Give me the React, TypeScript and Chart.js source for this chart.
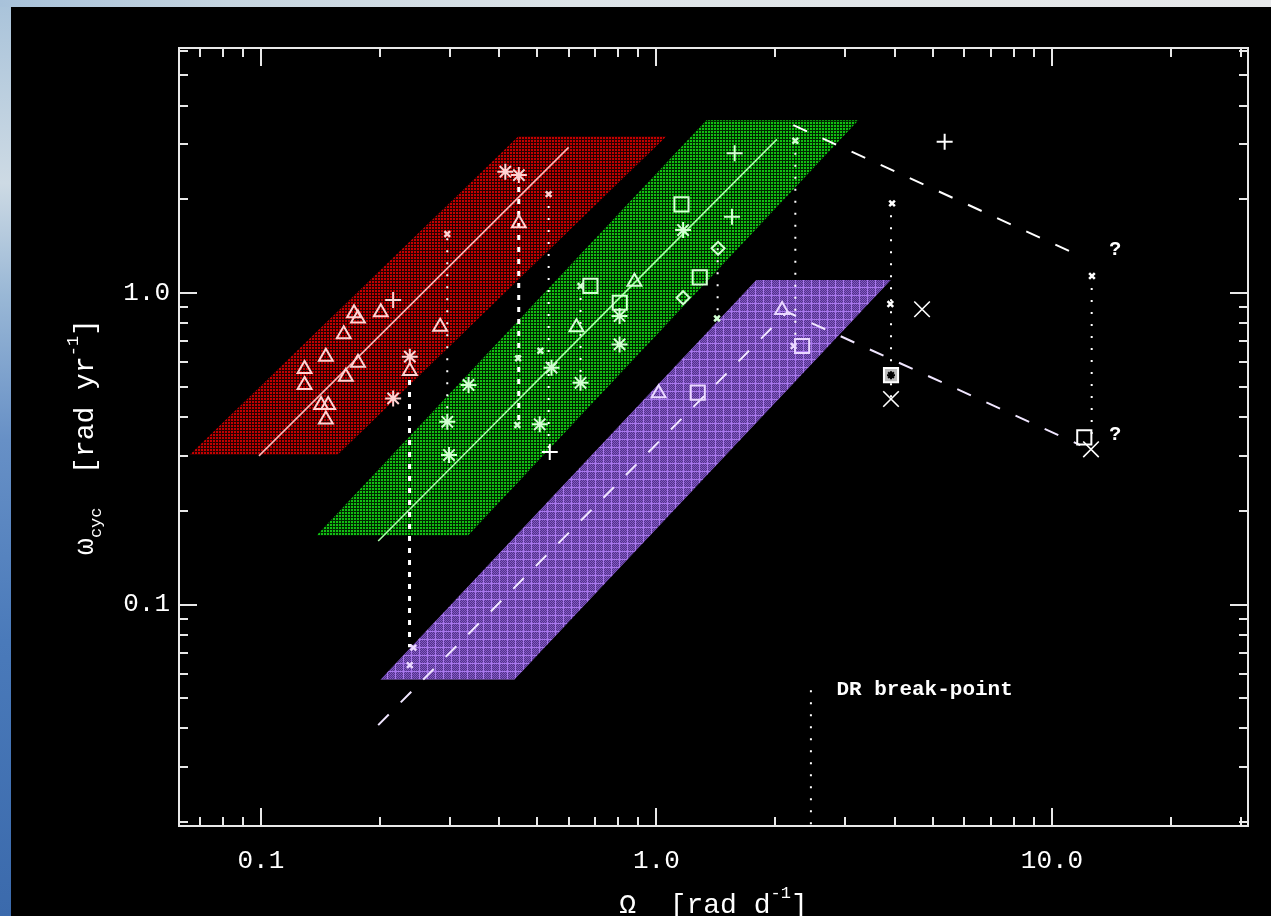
import React, { useEffect, useRef } from 'react';
import { Chart, registerables } from 'chart.js';

Chart.register(...registerables);

// ---------- axis ranges & ticks ----------
const X_MIN = 0.0621;
const X_MAX = 31.3;
const Y_MIN = 0.01945;
const Y_MAX = 6.12;

const xTickValues = [0.07, 0.08, 0.09, 0.1, 0.2, 0.3, 0.4, 0.5, 0.6, 0.7, 0.8, 0.9, 1, 2, 3, 4, 5, 6, 7, 8, 9, 10, 20, 30];
const xMajorTicks = [0.1, 1, 10];
const xTickLabels = ['0.1', '1.0', '10.0'];

const yTickValues = [0.02, 0.03, 0.04, 0.05, 0.06, 0.07, 0.08, 0.09, 0.1, 0.2, 0.3, 0.4, 0.5, 0.6, 0.7, 0.8, 0.9, 1, 2, 3, 4, 5, 6];
const yMajorTicks = [0.1, 1];
const yTickLabels = ['0.1', '1.0'];

// ---------- shaded bands (parallelogram corners) ----------
const redBand = [[0.066, 0.302], [0.1562, 0.302], [1.06, 3.19], [0.4479, 3.19]];
const greenBand = [[0.1383, 0.1665], [0.334, 0.1665], [3.24, 3.59], [1.337, 3.59]];
const purpleBand = [[0.2007, 0.0575], [0.4377, 0.0575], [3.914, 1.101], [1.789, 1.101]];

// ---------- fit / break lines ----------
const redFit = [[0.0989, 0.3], [0.6, 2.937]];
const greenFit = [[0.198, 0.16], [2.016, 3.114]];
const purpleFitLower = [[0.198, 0.041], [2.143, 0.869], [11.79, 0.325]];
const upperBreak = [[2.219, 3.462], [11.9, 1.308]];

// vertical dotted connectors: [x, yTop, yBottom]
const verticalsThick = [[0.2376, 0.526, 0.0729], [0.4487, 2.392, 0.377]];
const verticalsThin = [
  [0.296, 1.5, 0.4], [0.534, 2.078, 0.309], [0.643, 1.053, 0.515], [1.428, 1.392, 0.829],
  [2.245, 3.083, 0.676], [3.918, 1.941, 0.457], [12.6, 1.134, 0.344], [2.458, 0.0531, 0.01945],
];

// ---------- data points ----------
const redTriangles = [
  [0.172, 0.861], [0.176, 0.829], [0.201, 0.867], [0.162, 0.737], [0.146, 0.625], [0.176, 0.597],
  [0.129, 0.57], [0.164, 0.539], [0.129, 0.507], [0.142, 0.437], [0.148, 0.437], [0.146, 0.393],
  [0.284, 0.779], [0.238, 0.562], [0.449, 1.674],
];
const redCrosses = [[0.216, 0.95]];
const redStars = [[0.238, 0.625], [0.216, 0.459], [0.415, 2.452], [0.449, 2.392]];
const redSmall = [[0.296, 1.547], [0.534, 2.078]];

const greenCrosses = [[1.577, 2.809], [1.553, 1.758]];
const greenSquares = [[1.157, 1.927], [1.287, 1.123], [0.681, 1.055], [0.808, 0.931]];
const greenStars = [
  [1.168, 1.593], [0.807, 0.844], [0.807, 0.684], [0.543, 0.576], [0.643, 0.515],
  [0.507, 0.379], [0.335, 0.507], [0.296, 0.386], [0.299, 0.302],
];
const greenDiamonds = [[1.432, 1.392], [1.168, 0.966]];
const greenTriangles = [[0.88, 1.087], [0.628, 0.776]];
const greenSmall = [[1.423, 0.829], [0.509, 0.653], [0.447, 0.617], [0.445, 0.377], [2.245, 3.083], [0.643, 1.053]];

const purpleTriangles = [[2.078, 0.882], [1.013, 0.477]];
const purpleSquares = [[2.335, 0.676], [1.272, 0.479]];
const purpleSmall = [[2.223, 0.676], [0.243, 0.0727], [0.238, 0.0639]];

const otherCrosses = [[5.354, 3.06], [0.5375, 0.309]];
const otherXs = [[4.694, 0.887], [3.918, 0.457], [12.55, 0.315]];
const otherSquares = [[12.07, 0.344]];
const otherBoxed = [[3.918, 0.545]];
const otherSmall = [[3.942, 1.941], [12.62, 1.134], [3.903, 0.922]];

// ---------- texts ----------
const noteTexts = ['DR break-point', '?', '?'];
const notePoints = [[2.851, 0.0531], [14.45, 1.374], [14.45, 0.35]];
const xTitleParts: [string, string][] = [['Ω', 'n'], ['  ', 'n'], ['[rad d', 'n'], ['-1', 'sup'], [']', 'n']];
const yTitleParts: [string, string][] = [['ω', 'n'], ['cyc', 'sub'], ['  ', 'n'], ['[rad yr', 'n'], ['-1', 'sup'], [']', 'n']];

// ---------- helpers ----------
const FONT = 'Liberation Mono, DejaVu Sans Mono, monospace';
const pts = (arr: number[][]) => arr.map(([x, y]) => ({ x, y }));
const isIn = (v: number, list: number[]) => list.some((m) => Math.abs(v - m) / m < 1e-6);
const labelOf = (v: number, majors: number[], labels: string[]) => {
  const i = majors.findIndex((m) => Math.abs(v - m) / m < 1e-6);
  return i >= 0 ? labels[i] : '';
};

function makePattern(size: number, draw: (g: CanvasRenderingContext2D) => void) {
  const c = document.createElement('canvas');
  c.width = size;
  c.height = size;
  const g = c.getContext('2d')!;
  draw(g);
  return g.createPattern(c, 'repeat')!;
}

function markers(arr: number[][], style: string, radius: number, color: string, width = 2, fill = 'rgba(0,0,0,0)', order = 1) {
  return {
    type: 'line', data: pts(arr), showLine: false, pointStyle: style, pointRadius: radius,
    pointBorderColor: color, pointBackgroundColor: fill, pointBorderWidth: width, order,
  };
}
function lineDs(arr: number[][], color: string, width: number, dash: number[] = []) {
  return {
    type: 'line', data: pts(arr), borderColor: color, borderWidth: width, borderDash: dash,
    borderCapStyle: 'butt', pointRadius: 0, fill: false, order: 2,
  };
}
function band(arr: number[][], pattern: CanvasPattern) {
  return {
    type: 'line', data: pts([...arr, arr[0]]), borderWidth: 0, borderColor: 'rgba(0,0,0,0)',
    backgroundColor: pattern, fill: 'shape', pointRadius: 0, order: 3,
  };
}

function drawParts(ctx: CanvasRenderingContext2D, parts: [string, string][], size: number) {
  const fontFor = (k: string) => `${k === 'n' ? size : Math.round(size * 0.6)}px ${FONT}`;
  let total = 0;
  parts.forEach(([t, k]) => { ctx.font = fontFor(k); total += ctx.measureText(t).width; });
  let x = -total / 2;
  parts.forEach(([t, k]) => {
    ctx.font = fontFor(k);
    const dy = k === 'sup' ? -15 : k === 'sub' ? 8 : 0;
    ctx.fillText(t, x, dy);
    x += ctx.measureText(t).width;
  });
}

const decorPlugin = {
  id: 'decor',
  afterDatasetsDraw(chart: any) {
    const { ctx, chartArea: a } = chart;
    const xs = chart.scales.x;
    const ys = chart.scales.y;
    ctx.save();
    ctx.strokeStyle = '#e8e8e8';
    ctx.lineWidth = 2;
    ctx.strokeRect(a.left, a.top, a.right - a.left, a.bottom - a.top);
    ctx.beginPath();
    xs.ticks.forEach((t: any) => {
      const px = Math.round(xs.getPixelForValue(t.value));
      const len = isIn(t.value, xMajorTicks) ? 18 : 9;
      ctx.moveTo(px, a.bottom); ctx.lineTo(px, a.bottom - len);
      ctx.moveTo(px, a.top); ctx.lineTo(px, a.top + len);
    });
    ys.ticks.forEach((t: any) => {
      const py = Math.round(ys.getPixelForValue(t.value));
      const len = isIn(t.value, yMajorTicks) ? 18 : 9;
      ctx.moveTo(a.left, py); ctx.lineTo(a.left + len, py);
      ctx.moveTo(a.right, py); ctx.lineTo(a.right - len, py);
    });
    ctx.stroke();

    // notes
    ctx.fillStyle = '#ffffff';
    ctx.textBaseline = 'middle';
    noteTexts.forEach((t, i) => {
      const px = xs.getPixelForValue(notePoints[i][0]);
      const py = ys.getPixelForValue(notePoints[i][1]);
      ctx.font = `bold ${i === 0 ? 21 : 20}px ${FONT}`;
      ctx.textAlign = i === 0 ? 'left' : 'center';
      ctx.fillText(t, px, py);
    });

    // axis titles
    ctx.textAlign = 'left';
    ctx.textBaseline = 'alphabetic';
    ctx.save();
    ctx.translate((a.left + a.right) / 2, 906);
    drawParts(ctx, xTitleParts, 28);
    ctx.restore();
    ctx.save();
    ctx.translate(82, (a.top + a.bottom) / 2);
    ctx.rotate(-Math.PI / 2);
    drawParts(ctx, yTitleParts, 28);
    ctx.restore();
    ctx.restore();
  },
};

export default function App() {
  const ref = useRef<HTMLCanvasElement>(null);

  useEffect(() => {
    const canvas = ref.current!;
    const redPat = makePattern(3, (g) => {
      g.fillStyle = '#c40000'; g.fillRect(0, 0, 3, 3);
      g.fillStyle = '#2a0000'; g.fillRect(0, 0, 3, 1); g.fillRect(0, 0, 1, 3);
    });
    const greenPat = makePattern(3, (g) => {
      g.fillStyle = '#12c012'; g.fillRect(0, 0, 3, 3);
      g.fillStyle = '#002a00'; g.fillRect(0, 0, 3, 1); g.fillRect(0, 0, 1, 3);
    });
    const purplePat = makePattern(8, (g) => {
      g.fillStyle = '#52328a'; g.fillRect(0, 0, 8, 8);
      g.fillStyle = '#8258c4';
      for (let i = 0; i < 8; i++) for (let j = 0; j < 8; j++) if ((i + j) % 2 === 0) g.fillRect(i, j, 1, 1);
      g.fillStyle = '#a878ec'; g.fillRect(0, 0, 8, 1); g.fillRect(0, 0, 1, 8);
    });

    const RED = '#ffd2d2';
    const GREEN = '#d2ffd2';
    const PURPLE = '#ead8ff';
    const WHITE = '#ffffff';

    const datasets: any[] = [
      band(redBand, redPat),
      band(greenBand, greenPat),
      band(purpleBand, purplePat),
      lineDs(redFit, '#ffb4b4', 1.6),
      lineDs(greenFit, '#a8ffa8', 1.6),
      lineDs(purpleFitLower, '#f0e6ff', 2, [15, 17]),
      lineDs(upperBreak, '#ffffff', 2, [15, 17]),
      ...verticalsThick.map(([x, a, b]) => lineDs([[x, a], [x, b]], '#ffffff', 3, [5, 7])),
      ...verticalsThin.map(([x, a, b]) => lineDs([[x, a], [x, b]], '#ffffff', 2, [2, 10])),
      markers(redTriangles, 'triangle', 8, RED),
      markers(redCrosses, 'cross', 8, RED),
      markers(redStars, 'star', 8, RED),
      markers(redSmall, 'crossRot', 4, RED, 2.5),
      markers(greenCrosses, 'cross', 8, GREEN),
      markers(greenSquares, 'rect', 10, GREEN),
      markers(greenStars, 'star', 8, GREEN),
      markers(greenDiamonds, 'rectRot', 6.5, GREEN),
      markers(greenTriangles, 'triangle', 8, GREEN),
      markers(greenSmall, 'crossRot', 4, GREEN, 2.5),
      markers(purpleTriangles, 'triangle', 8, PURPLE),
      markers(purpleSquares, 'rect', 10, PURPLE),
      markers(purpleSmall, 'crossRot', 4, PURPLE, 2.5),
      markers(otherCrosses, 'cross', 8, WHITE),
      markers(otherXs, 'crossRot', 11, WHITE, 1.6),
      markers(otherSquares, 'rect', 10, WHITE),
      markers(otherBoxed, 'rect', 10, WHITE, 2, '#bdbdbd'),
      markers(otherBoxed, 'star', 4, '#000000', 2, 'rgba(0,0,0,0)', 0),
      markers(otherSmall, 'crossRot', 4, WHITE, 2.5),
    ];

    const chart = new Chart(canvas, {
      type: 'line',
      data: { datasets },
      options: {
        responsive: false,
        animation: false,
        events: [],
        layout: { padding: { top: 41, right: 23, left: 0, bottom: 0 } },
        plugins: { legend: { display: false }, tooltip: { enabled: false } },
        scales: {
          x: {
            type: 'logarithmic',
            min: X_MIN,
            max: X_MAX,
            afterBuildTicks: (s: any) => { s.ticks = xTickValues.map((v) => ({ value: v })); },
            afterFit: (s: any) => { s.height = 90; },
            grid: { display: false, drawTicks: false },
            border: { display: false },
            ticks: {
              autoSkip: false, maxRotation: 0, minRotation: 0, padding: 20, color: '#ffffff',
              font: { family: FONT, size: 26 },
              callback: (v: any) => labelOf(Number(v), xMajorTicks, xTickLabels),
            },
          },
          y: {
            type: 'logarithmic',
            min: Y_MIN,
            max: Y_MAX,
            afterBuildTicks: (s: any) => { s.ticks = yTickValues.map((v) => ({ value: v })); },
            afterFit: (s: any) => { s.width = 168; },
            grid: { display: false, drawTicks: false },
            border: { display: false },
            ticks: {
              autoSkip: false, padding: 9, color: '#ffffff',
              font: { family: FONT, size: 26 },
              callback: (v: any) => labelOf(Number(v), yMajorTicks, yTickLabels),
            },
          },
        },
      } as any,
      plugins: [decorPlugin],
    } as any);
    return () => chart.destroy();
  }, []);

  return (
    <div
      style={{
        position: 'fixed', left: 0, top: 0, width: 1271, height: 916, overflow: 'hidden',
        background: 'linear-gradient(to bottom, #a9c3da 0%, #cddae4 20%, #9ab8d6 32%, #6790c6 48%, #4a7aba 70%, #3b6aac 100%)',
      }}
    >
      <div
        style={{
          position: 'absolute', left: 0, top: 0, width: 1271, height: 7,
          background: 'linear-gradient(to right, #a8c2da 0%, #c6d5e0 18%, #dde4e8 45%, #e8e9ea 100%)',
        }}
      />
      <div style={{ position: 'absolute', left: 11, top: 7, width: 1260, height: 909, background: '#000' }}>
        <canvas ref={ref} width={1260} height={909} style={{ display: 'block' }} />
      </div>
    </div>
  );
}
